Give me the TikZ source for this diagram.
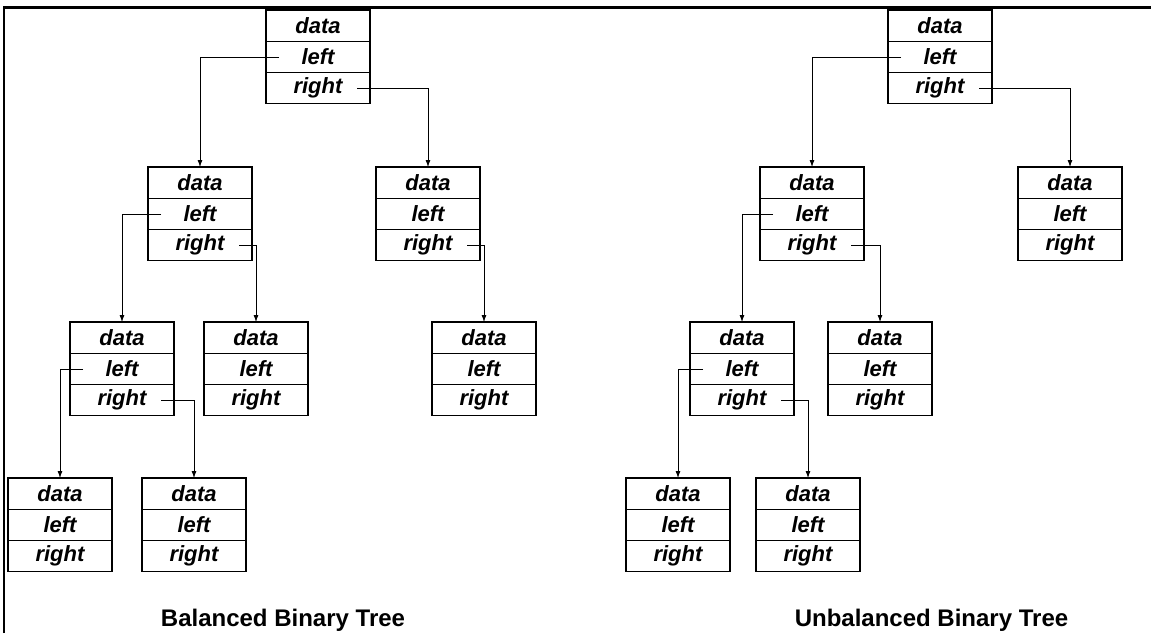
\documentclass[tikz,border=0pt]{standalone}
\usepackage{fontspec}
\setmainfont{Liberation Sans}
\usetikzlibrary{arrows.meta}

\begin{document}
\begin{tikzpicture}[x=1pt,y=-1pt,
    cell/.style={draw,line width=1.1pt,minimum width=104pt,minimum height=31.3pt,
                 inner sep=0pt,outer sep=0pt,font=\fontsize{22}{22}\selectfont\bfseries\itshape},
    link/.style={line width=0.8pt,-{Latex[length=7pt,width=5pt]}},
    title/.style={font=\fontsize{24}{24}\selectfont\bfseries,anchor=base}]

        \useasboundingbox (0,0) rectangle (1151,633);
        \draw[line width=2.3pt] (4.3,633) -- (4.3,7.5) -- (1151,7.5);

        \foreach \n/\x/\y in {r/318/10, a/200/167, b/428/167, c/122/322, d/256/322,
                              e/484/322, f/60/478, g/194/478,
                              R/940/10, A/812/167, B/1070/167, C/742/322, D/880/322,
                              E/678/478, F/808/478} {
          \node[cell] (\n-d) at (\x,\y+15.65) {data};
          \node[cell] (\n-l) at (\x,\y+46.95) {left};
          \node[cell] (\n-r) at (\x,\y+78.25) {right};
        }

        \begin{scope}[every path/.style={link}]
          \draw ([xshift=13pt]r-l.west)  -| (a-d.north);
          \draw ([xshift=-13pt]r-r.east) -| (b-d.north);
          \draw ([xshift=13pt]a-l.west)  -| (c-d.north);
          \draw ([xshift=-13pt]a-r.east) -| (d-d.north);
          \draw ([xshift=-13pt]b-r.east) -| (e-d.north);
          \draw ([xshift=13pt]c-l.west)  -| (f-d.north);
          \draw ([xshift=-13pt]c-r.east) -| (g-d.north);

          \draw ([xshift=13pt]R-l.west)  -| (A-d.north);
          \draw ([xshift=-13pt]R-r.east) -| (B-d.north);
          \draw ([xshift=13pt]A-l.west)  -| (C-d.north);
          \draw ([xshift=-13pt]A-r.east) -| (D-d.north);
          \draw ([xshift=13pt]C-l.west)  -| (E-d.north);
          \draw ([xshift=-13pt]C-r.east) -| (F-d.north);
        \end{scope}

        \node[title] (bal) at (283,626.5) {Balanced Binary Tree};
        \node[title] (unbal) at (931.5,626.5) {Unbalanced Binary Tree};

      \end{tikzpicture}
\end{document}
